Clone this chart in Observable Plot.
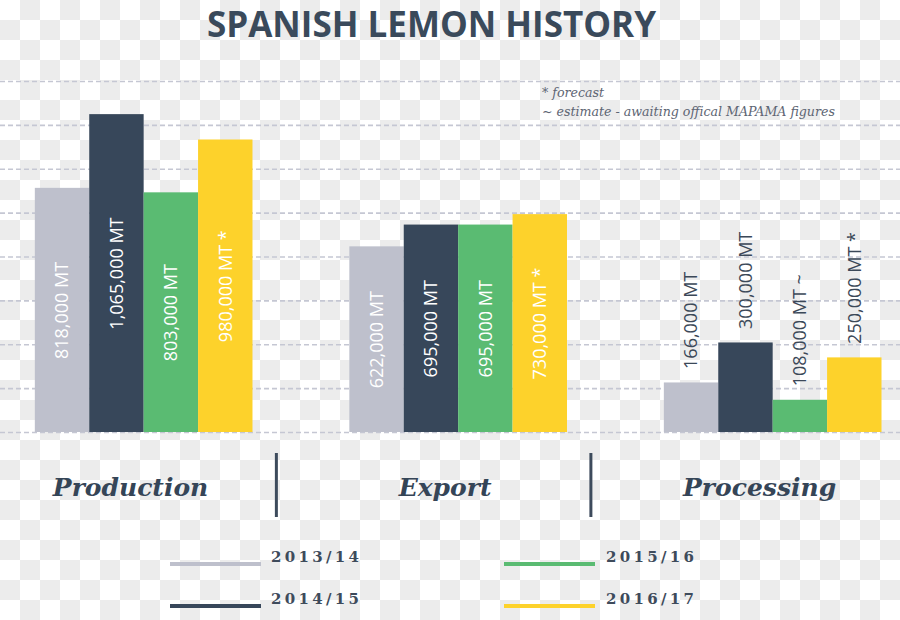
<!DOCTYPE html>
<html><head><meta charset="utf-8">
<script src="https://cdn.jsdelivr.net/npm/d3@7"></script>
<script src="https://cdn.jsdelivr.net/npm/@observablehq/plot@0.6"></script>
<style>
html,body{margin:0;padding:0;}
body{width:900px;height:620px;position:relative;overflow:hidden;
  background:repeating-conic-gradient(#ececec 0 25%, #ffffff 0 50%) 0 0/40px 40px;}
#title{position:absolute;left:0;width:863px;top:0;margin:0;text-align:center;
  font:700 35px/normal "Open Sans",sans-serif;color:#3a4a5b;}
#chart{position:absolute;left:0;top:40px;}
#note{position:absolute;left:542px;top:84px;font:italic 12.6px/18.6px "DejaVu Serif",serif;color:#5d6573;white-space:nowrap;}
.sw{position:absolute;height:4px;width:91px;}
.lab{position:absolute;font:700 15px/15px "DejaVu Serif",serif;letter-spacing:3.3px;color:#3e4b5b;white-space:nowrap;}
</style></head>
<body>
<h1 id="title">SPANISH LEMON HISTORY</h1>
<div id="chart"></div>
<div id="note">* forecast<br>~ estimate - awaiting offical MAPAMA figures</div>
<div id="legend"></div>
<script>
// ---- data ----
const groups = ["Production", "Export", "Processing"];
const years = ["2013/14", "2014/15", "2015/16", "2016/17"];
const production = [818000, 1065000, 803000, 980000];
const exportVals = [622000, 695000, 695000, 730000];
const processing = [166000, 300000, 108000, 250000];
const productionNotes = ["", "", "", "*"];
const exportNotes = ["", "", "", "*"];
const processingNotes = ["", "", "~", "*"];
const colors = ["#bec0cc", "#37475a", "#5abb72", "#fdd22b"];
const gridStep = 147000;
const gridCount = 8;

// ---- layout ----
const series = [production, exportVals, processing];
const notes = [productionNotes, exportNotes, processingNotes];
const stride = 5.78;
const rows = groups.flatMap((g, gi) => years.map((y, yi) => ({
  group: g, gi, year: y, yi, value: series[gi][yi], note: notes[gi][yi],
  pos: gi * stride + yi
})));
const fmt = d3.format(",");
const label = d => `${fmt(d.value)} MT${d.note ? " " + d.note : ""}`;

const chart = Plot.plot({
  width: 900, height: 500,
  marginTop: 41, marginBottom: 108, marginLeft: 0, marginRight: 0,
  x: {domain: [-0.64, 15.9], axis: null},
  y: {domain: [0, gridStep * gridCount], axis: null},
  color: {domain: years, range: colors},
  style: {background: "transparent", overflow: "visible"},
  marks: [
    Plot.ruleY(d3.range(0, gridCount + 1).map(i => i * gridStep),
      {stroke: "#c5c7d3", strokeWidth: 1.6, strokeDasharray: "5,3"}),
    Plot.rectY(rows, {x1: d => d.pos, x2: d => d.pos + 1, y1: 0, y2: "value", fill: "year"}),
    Plot.text(rows.filter(d => d.gi < 2), {
      x: d => d.pos + 0.5, y: d => d.value / 2, text: label, rotate: -90,
      fill: "white", fontSize: 18, fontFamily: "Open Sans", lineAnchor: "middle"
    }),
    Plot.text(rows.filter(d => d.gi === 2), {
      x: d => d.pos + 0.5, y: "value", text: label, rotate: -90, textAnchor: "start",
      dy: -14, fill: "#3b4858", fontSize: 18, fontFamily: "Open Sans", lineAnchor: "middle"
    }),
    Plot.text(groups, {
      x: (d, i) => i * stride + 1.75, y: () => 0, text: d => d, dy: 55, lineAnchor: "middle",
      fontSize: 25, fontStyle: "italic", fontWeight: "bold", fontFamily: "DejaVu Serif", fill: "#354557"
    }),
    Plot.ruleX([0, 1], {
      x: d => d * stride + 4.43, stroke: "#3d4b5c", strokeWidth: 3, insetTop: 372, insetBottom: -85
    })
  ]
});
document.getElementById("chart").appendChild(chart);

// ---- legend ----
const legend = document.getElementById("legend");
const colSw = [170, 504], colLab = [271, 606], rowSw = [562, 604], rowLab = [557, 599.5];
years.forEach((y, i) => {
  const c = Math.floor(i / 2), r = i % 2;
  const sw = document.createElement("div");
  sw.className = "sw";
  sw.style.left = colSw[c] + "px";
  sw.style.top = rowSw[r] + "px";
  sw.style.background = colors[i];
  legend.appendChild(sw);
  const lb = document.createElement("div");
  lb.className = "lab";
  lb.style.left = colLab[c] + "px";
  lb.style.top = (rowLab[r] - 7.5) + "px";
  lb.textContent = y;
  legend.appendChild(lb);
});
</script>
</body></html>
